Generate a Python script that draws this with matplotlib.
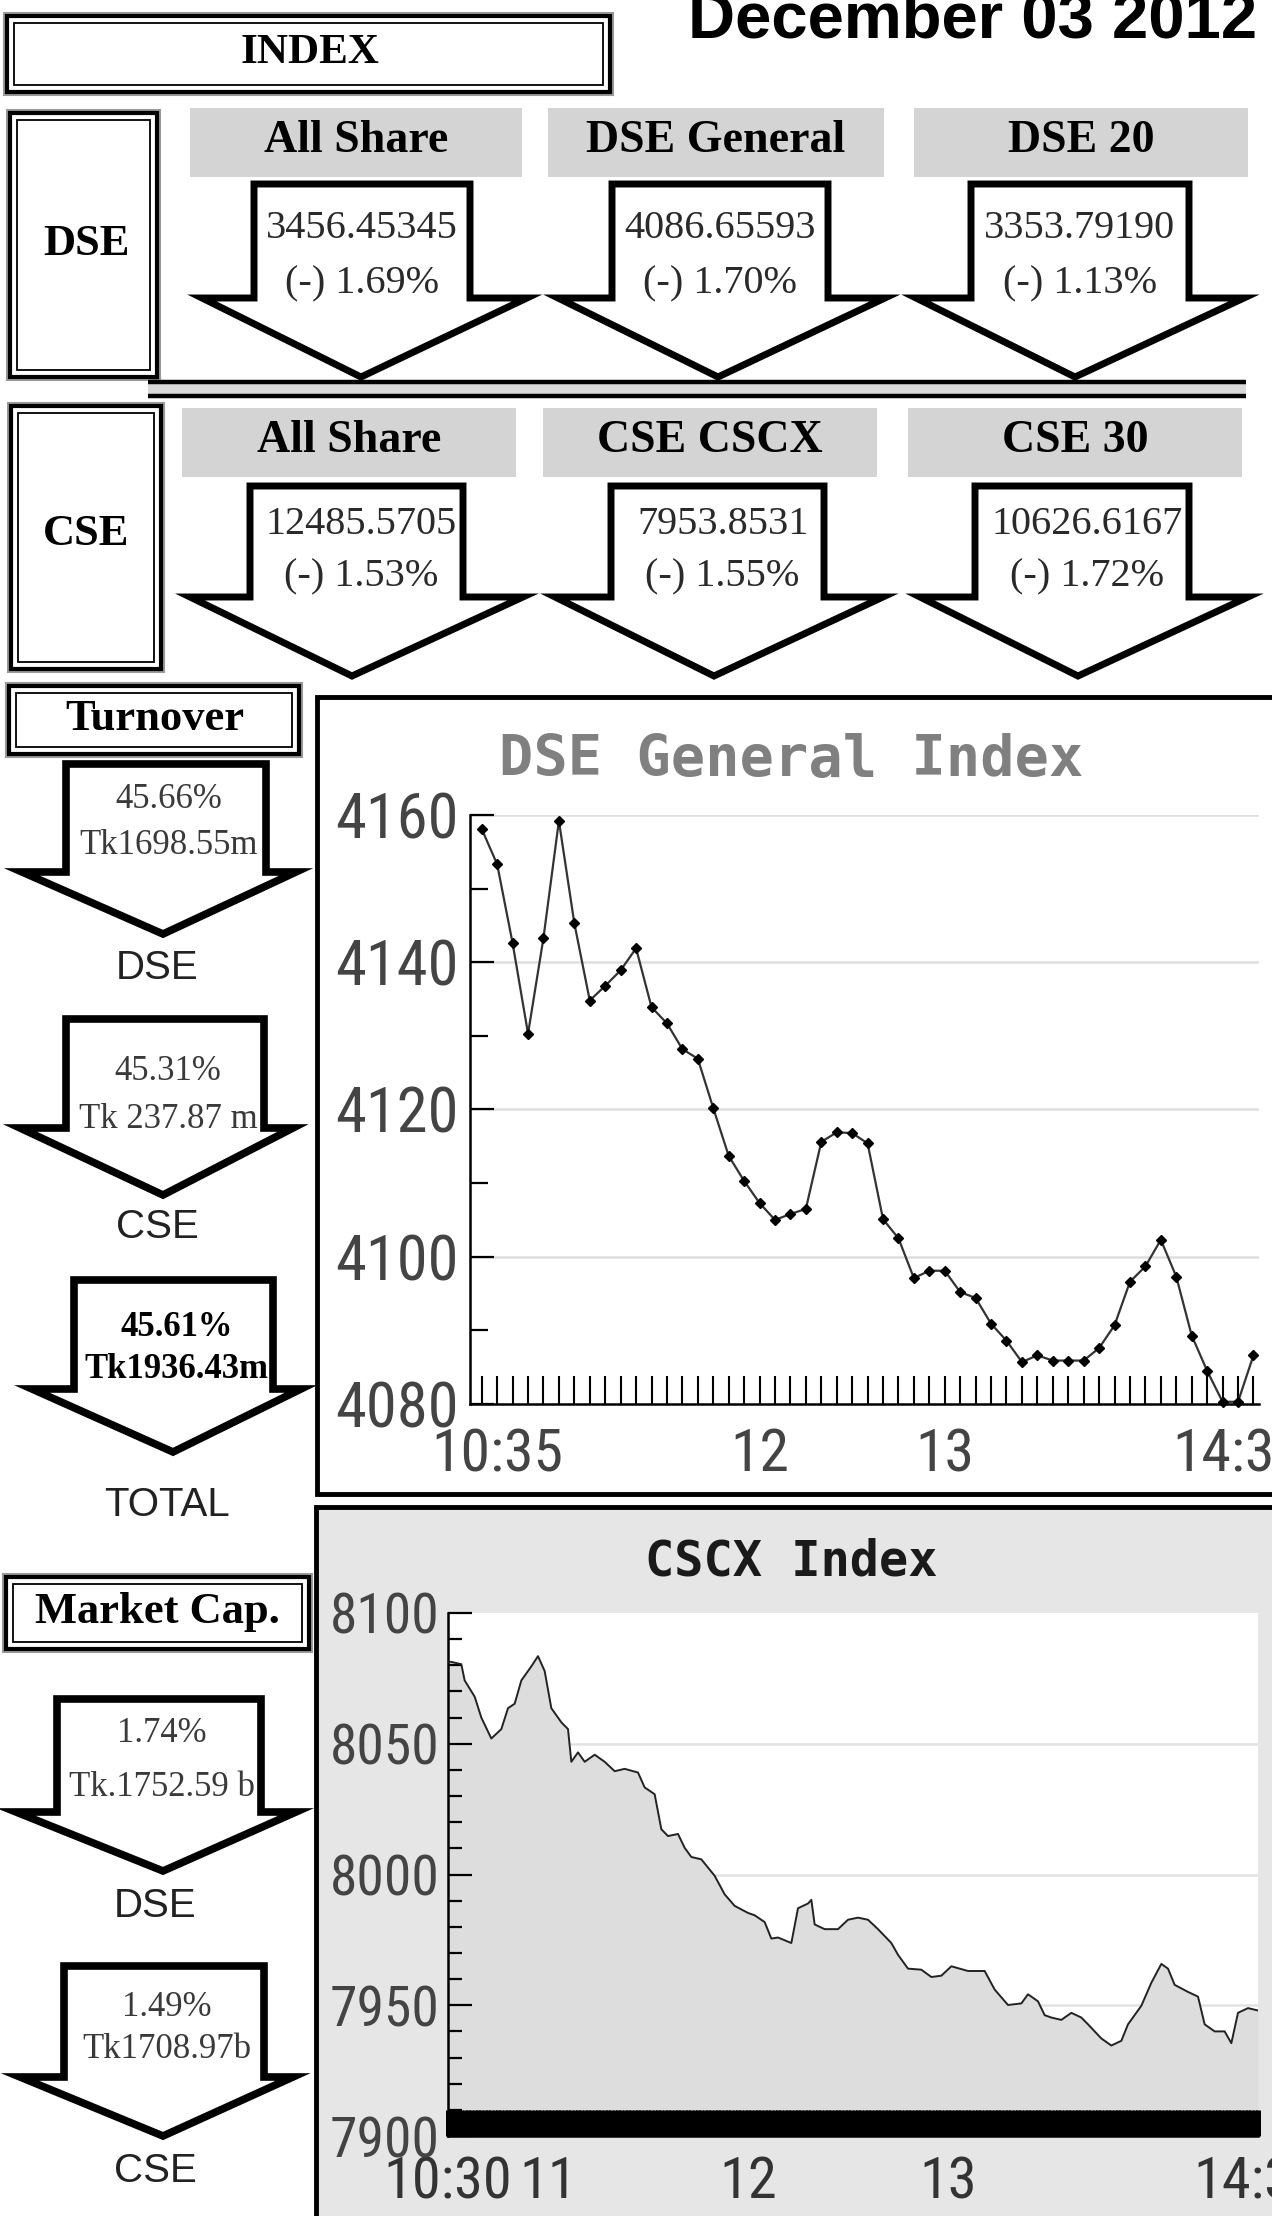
import matplotlib
matplotlib.use('Agg')
import matplotlib.pyplot as plt
from matplotlib.patches import Rectangle, Polygon
from matplotlib import font_manager as fm

W, H = 1272, 2216

# ---------------- data ----------------
date_label = "December 03 2012"
index_title = "INDEX"
dse_index_names = ["All Share", "DSE General", "DSE 20"]
dse_index_values = ["3456.45345", "4086.65593", "3353.79190"]
dse_index_changes = ["(-) 1.69%", "(-) 1.70%", "(-) 1.13%"]
cse_index_names = ["All Share", "CSE CSCX", "CSE 30"]
cse_index_values = ["12485.5705", "7953.8531", "10626.6167"]
cse_index_changes = ["(-) 1.53%", "(-) 1.55%", "(-) 1.72%"]

turnover_labels = ["DSE", "CSE", "TOTAL"]
turnover_pct = ["45.66%", "45.31%", "45.61%"]
turnover_amt = ["Tk1698.55m", "Tk 237.87 m", "Tk1936.43m"]
mcap_labels = ["DSE", "CSE"]
mcap_pct = ["1.74%", "1.49%"]
mcap_amt = ["Tk.1752.59 b", "Tk1708.97b"]

# DSE General Index: minutes after 10:00, 5-minute readings
dsex_minutes = list(range(30, 281, 5))
dsex_values = [4158.1, 4153.3, 4142.6, 4130.3, 4143.3, 4159.2, 4145.3, 4134.8, 4136.8, 4138.9,
               4141.9, 4133.9, 4131.7, 4128.2, 4126.9, 4120.2, 4113.7, 4110.3, 4107.3, 4105.0,
               4105.8, 4106.5, 4115.6, 4116.9, 4116.8, 4115.4, 4105.1, 4102.5, 4097.1, 4098.1,
               4098.1, 4095.2, 4094.4, 4090.9, 4088.6, 4085.7, 4086.6, 4085.9, 4085.9, 4085.9,
               4087.6, 4090.7, 4096.6, 4098.7, 4102.3, 4097.3, 4089.3, 4084.5, 4080.3, 4080.3,
               4086.6]
dse_xtick_minutes = [35, 120, 180, 275]
dse_xtick_labels = ["10:35", "12", "13", "14:35"]
dse_yticks = [4080, 4100, 4120, 4140, 4160]

# CSCX Index: minutes after 10:00
cscx_minutes = [30, 31, 34, 35, 38, 40, 43, 46, 48, 50,
                52, 55, 57, 59, 61, 64, 66, 67, 69, 71,
                74, 77, 80, 83, 87, 89, 92, 94, 96, 99,
                101, 103, 106, 110, 113, 116, 120, 122, 125, 127,
                129, 133, 135, 138, 139, 140, 143, 147, 150, 153,
                156, 159, 163, 165, 168, 172, 175, 178, 181, 186,
                191, 194, 198, 202, 204, 207, 209, 211, 214, 217,
                220, 222, 226, 229, 232, 234, 238, 241, 244, 246,
                248, 252, 255, 257, 260, 263, 265, 267, 270, 273]
cscx_values = [8081.3, 8081.3, 8080.4, 8074.2, 8068.0, 8060.0, 8052.0, 8055.6, 8063.6, 8065.3,
               8074.2, 8079.6, 8083.5, 8077.8, 8063.6, 8058.2, 8055.6, 8043.1, 8046.7, 8043.1,
               8045.8, 8043.1, 8039.5, 8040.4, 8039.0, 8033.3, 8030.7, 8017.3, 8014.7, 8015.5,
               8010.2, 8006.7, 8005.8, 7999.5, 7992.4, 7988.0, 7985.3, 7984.4, 7981.8, 7975.5,
               7975.9, 7973.8, 7987.1, 7988.9, 7990.3, 7980.9, 7979.1, 7979.1, 7982.7, 7983.5,
               7982.7, 7979.1, 7973.8, 7969.3, 7964.0, 7963.6, 7960.8, 7961.3, 7964.9, 7963.1,
               7963.1, 7956.0, 7950.1, 7950.7, 7954.2, 7951.5, 7946.2, 7945.3, 7944.4, 7947.1,
               7945.3, 7942.7, 7937.3, 7934.6, 7936.4, 7942.7, 7949.8, 7958.6, 7965.8, 7964.0,
               7957.8, 7955.1, 7953.3, 7942.7, 7940.0, 7940.0, 7935.5, 7947.1, 7948.9, 7948.0]
cscx_xtick_minutes = [30, 60, 120, 180, 273]
cscx_xtick_labels = ["10:30", "11", "12", "13", "14:33"]
cscx_yticks = [7900, 7950, 8000, 8050, 8100]

# ---------------- fonts ----------------
avail = {f.name for f in fm.fontManager.ttflist}
def pick(*names):
    for n in names:
        if n in avail:
            return n
    return 'DejaVu Sans'
NARROW = pick('Liberation Sans Narrow', 'DejaVu Sans Condensed', 'Roboto Condensed', 'DejaVu Sans')
SERIF = pick('Liberation Serif', 'DejaVu Serif')
SANS = pick('Liberation Sans', 'Arial', 'DejaVu Sans')
MONO = pick('DejaVu Sans Mono', 'Liberation Mono')

fig = plt.figure(figsize=(W / 100, H / 100), dpi=100)
fig.patch.set_facecolor('white')

ax0 = fig.add_axes([0, 0, 1, 1])
ax0.set_xlim(0, W)
ax0.set_ylim(H, 0)
ax0.axis('off')


def dbox(x0, y0, x1, y1):
    ax0.add_patch(Rectangle((x0, y0), x1 - x0, y1 - y0, fc='white', ec='#9a9a9a', lw=1.5, zorder=2))
    ax0.add_patch(Rectangle((x0 + 3, y0 + 3), x1 - x0 - 6, y1 - y0 - 6, fc='none', ec='black', lw=3.0, zorder=3))
    ax0.add_patch(Rectangle((x0 + 10, y0 + 10), x1 - x0 - 20, y1 - y0 - 20, fc='none', ec='black', lw=1.3, zorder=3))


def arrow(sl, sr, wl, wr, tx, top, sh, tip, lw=5.0):
    pts = [(sl, top), (sr, top), (sr, sh), (wr, sh), (tx, tip), (wl, sh), (sl, sh)]
    ax0.add_patch(Polygon(pts, closed=True, fc='white', ec='none', zorder=2))
    ax0.add_patch(Polygon(pts, closed=True, fc='none', ec='black', lw=lw,
                          joinstyle='miter', zorder=5))


def txt(x, y, s, size, family, weight='normal', color='#2a2a2a', ha='center', va='center', z=4):
    ax0.text(x, y, s, fontsize=size, family=family, fontweight=weight, color=color,
             ha=ha, va=va, zorder=z)

# ---------------- header ----------------
txt(973, 37, date_label, 47, SANS, 'bold', 'black', va='baseline')
dbox(4, 13, 613, 95)
txt(310, 53, index_title, 31, SERIF, 'bold', 'black')

# DSE row
dbox(7, 110, 160, 380)
txt(86, 244, "DSE", 32, SERIF, 'bold', 'black')
hdr_x = [(190, 522), (548, 884), (914, 1248)]
for (x0, x1), name in zip(hdr_x, dse_index_names):
    ax0.add_patch(Rectangle((x0, 108), x1 - x0, 69, fc='#d4d4d4', ec='none', zorder=2))
    txt((x0 + x1) / 2, 141, name, 33, SERIF, 'bold', 'black')
dse_arrows = [(254, 470, 202, 527, 361), (612, 828, 558, 885, 718), (971, 1189, 916, 1244, 1075)]
for (sl, sr, wl, wr, tx), v, c in zip(dse_arrows, dse_index_values, dse_index_changes):
    arrow(sl, sr, wl, wr, tx, 184, 298, 377)
    txt((sl + sr) / 2, 229, v, 29, SERIF)
    txt((sl + sr) / 2, 284, c, 29, SERIF)

# double separator line
ax0.add_patch(Rectangle((148, 381), 1098, 16, fc='#d9d9d9', ec='none', zorder=1))
ax0.plot([148, 1246], [382, 382], color='black', lw=3.2, zorder=2, solid_capstyle='butt')
ax0.plot([148, 1246], [396, 396], color='black', lw=3.2, zorder=2, solid_capstyle='butt')

# CSE row
dbox(8, 403, 164, 672)
txt(86, 534, "CSE", 32, SERIF, 'bold', 'black')
hdr_x2 = [(182, 516), (543, 877), (908, 1242)]
for (x0, x1), name in zip(hdr_x2, cse_index_names):
    ax0.add_patch(Rectangle((x0, 408), x1 - x0, 69, fc='#d4d4d4', ec='none', zorder=2))
    txt((x0 + x1) / 2, 441, name, 33, SERIF, 'bold', 'black')
cse_arrows = [(250, 463, 190, 523, 352), (611, 824, 555, 883, 714), (975, 1189, 920, 1248, 1078)]
for (sl, sr, wl, wr, tx), v, c in zip(cse_arrows, cse_index_values, cse_index_changes):
    arrow(sl, sr, wl, wr, tx, 486, 597, 676)
    txt((sl + sr) / 2 + 5, 524, v, 29, SERIF)
    txt((sl + sr) / 2 + 5, 577, c, 29, SERIF)

# ---------------- left column: turnover ----------------
dbox(6, 683, 302, 757)
txt(155, 719, "Turnover", 32, SERIF, 'bold', 'black')
turn_geom = [(66, 266, 22, 296, 163, 764, 872, 934),
             (66, 264, 20, 293, 163, 1019, 1128, 1195),
             (74, 273, 32, 301, 173, 1280, 1389, 1452)]
turn_text_y = [(800, 845), (1072, 1119), (1328, 1369)]
turn_label_y = [968, 1227, 1505]
for i, g in enumerate(turn_geom):
    sl, sr, wl, wr, tx, top, sh, tip = g
    arrow(sl, sr, wl, wr, tx, top, sh, tip, lw=5.5)
    w = 'bold' if turnover_labels[i] == 'TOTAL' else 'normal'
    col = 'black' if w == 'bold' else '#3a3a3a'
    cx = (sl + sr) / 2 + 3
    txt(cx, turn_text_y[i][0], turnover_pct[i], 25, SERIF, w, col)
    txt(cx, turn_text_y[i][1], turnover_amt[i], 25, SERIF, w, col)
    txt(tx - 6, turn_label_y[i], turnover_labels[i], 29, SANS, 'normal', '#222222')

# ---------------- left column: market cap ----------------
dbox(3, 1574, 312, 1652)
txt(157, 1612, "Market Cap.", 32, SERIF, 'bold', 'black')
mcap_geom = [(57, 261, 16, 296, 163, 1699, 1812, 1871),
             (64, 264, 20, 293, 163, 1966, 2077, 2136)]
mcap_text_y = [(1734, 1788), (2008, 2049)]
mcap_label_y = [1906, 2171]
for i, g in enumerate(mcap_geom):
    sl, sr, wl, wr, tx, top, sh, tip = g
    arrow(sl, sr, wl, wr, tx, top, sh, tip, lw=5.5)
    cx = (sl + sr) / 2 + 3
    txt(cx, mcap_text_y[i][0], mcap_pct[i], 25, SERIF, 'normal', '#3a3a3a')
    txt(cx, mcap_text_y[i][1], mcap_amt[i], 25, SERIF, 'normal', '#3a3a3a')
    txt(tx - 8, mcap_label_y[i], mcap_labels[i], 29, SANS, 'normal', '#222222')

# ---------------- chart panels ----------------
ax0.add_patch(Rectangle((317, 697), 1000, 797, fc='white', ec='black', lw=3.5, zorder=1))
ax0.add_patch(Rectangle((316, 1507), 1000, 760, fc='#e6e6e6', ec='black', lw=3.5, zorder=1))
txt(791, 760, "DSE General Index", 41, MONO, 'bold', '#808080')
txt(791, 1562, "CSCX Index", 35, MONO, 'bold', '#1a1a1a')


def frac(x0, y0, x1, y1):
    return [x0 / W, 1 - y1 / H, (x1 - x0) / W, (y1 - y0) / H]

# DSE General Index chart
axd = fig.add_axes(frac(470, 815, 1259, 1404))
axd.set_facecolor('none')
axd.set_axisbelow(False)
for yv in dse_yticks[1:]:
    axd.axhline(yv, color='#dedede', lw=1.8, zorder=1)
axd.plot(dsex_minutes, dsex_values, color='#333333', lw=1.6, marker='D', ms=5,
         mfc='black', mec='black', clip_on=False, zorder=3)
axd.set_xlim(26.2, 281.8)
axd.set_ylim(4080, 4160)
for s in ['top', 'right']:
    axd.spines[s].set_visible(False)
for s in ['left', 'bottom']:
    axd.spines[s].set_linewidth(1.8)
axd.set_yticks(dse_yticks)
axd.set_yticks([4090, 4110, 4130, 4150], minor=True)
axd.set_xticks(dse_xtick_minutes, dse_xtick_labels)
axd.set_xticks(dsex_minutes, minor=True)
axd.tick_params(axis='y', which='major', direction='in', length=17, width=1.6, pad=8,
                labelsize=45, labelcolor='#444444')
axd.tick_params(axis='y', which='minor', direction='in', length=13, width=1.6)
axd.tick_params(axis='x', which='both', direction='in', length=20, width=1.5, pad=16,
                labelsize=43, labelcolor='#444444')
for lbl in axd.get_xticklabels() + axd.get_yticklabels():
    lbl.set_family(NARROW)

# CSCX Index chart
axc = fig.add_axes(frac(448, 1613, 1258, 2136))
axc.set_facecolor('white')
axc.set_axisbelow(False)
for yv in cscx_yticks[1:-1]:
    axc.axhline(yv, color='#e2e2e2', lw=1.8, zorder=1)
axc.fill_between(cscx_minutes, cscx_values, 7900, color='#dddddd', lw=0, zorder=2)
axc.plot(cscx_minutes, cscx_values, color='#222222', lw=1.4, zorder=3)
axc.set_xlim(30, 273)
axc.set_ylim(7900, 8100)
for s in ['top', 'right']:
    axc.spines[s].set_visible(False)
for s in ['left', 'bottom']:
    axc.spines[s].set_linewidth(1.8)
axc.set_yticks(cscx_yticks)
axc.set_yticks([v for v in range(7910, 8100, 10) if v % 50], minor=True)
axc.set_xticks(cscx_xtick_minutes, cscx_xtick_labels)
axc.set_xticks(list(range(30, 274)), minor=True)
axc.tick_params(axis='y', which='major', direction='in', length=17, width=1.6, pad=6,
                labelsize=40, labelcolor='#444444')
axc.tick_params(axis='y', which='minor', direction='in', length=10, width=1.6)
axc.tick_params(axis='x', which='both', direction='in', length=19, width=3.6, pad=14,
                labelsize=42, labelcolor='#333333')
for lbl in axc.get_xticklabels() + axc.get_yticklabels():
    lbl.set_family(NARROW)

fig.savefig('out.png', dpi=100)
